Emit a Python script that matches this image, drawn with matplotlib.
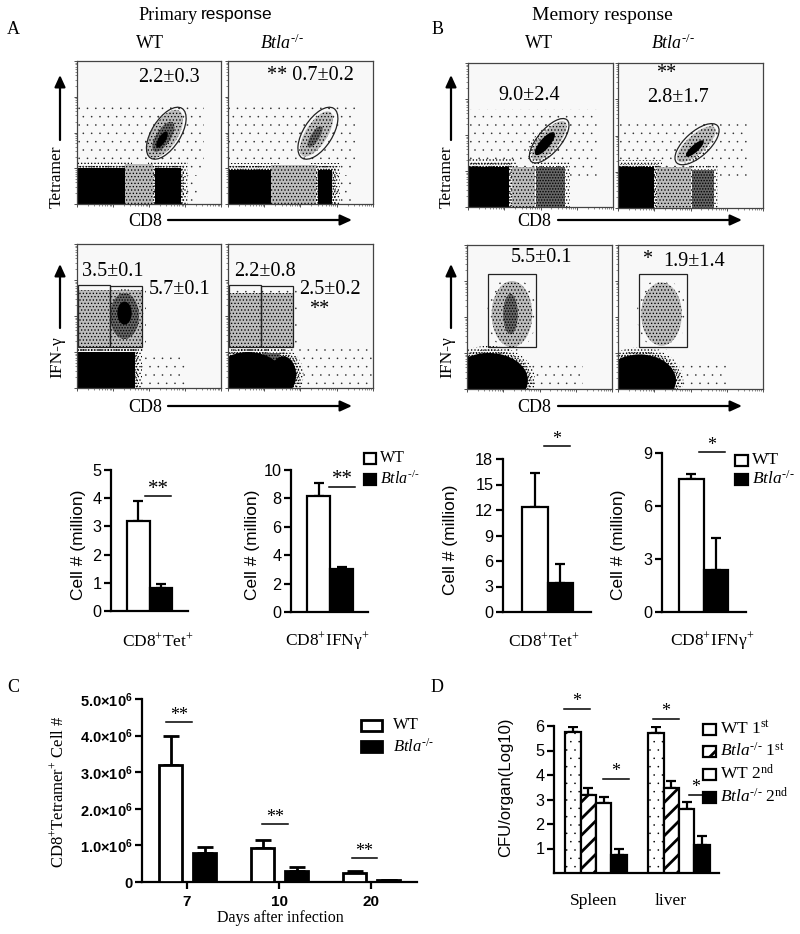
import numpy as np
import matplotlib
matplotlib.use("Agg")
import matplotlib.pyplot as plt
from matplotlib.patches import Rectangle, Ellipse

plt.rcParams.update({
    'font.family': 'Liberation Serif',
    'mathtext.fontset': 'custom',
    'mathtext.rm': 'Liberation Serif',
    'mathtext.it': 'Liberation Serif:italic',
    'mathtext.bf': 'Liberation Sans:bold',
})
W, H = 800, 934
SANS = 'Liberation Sans'
KO = r'$\mathit{Btla}^{\text{-/-}}$'

# ---------- flow panels: estimated population regions, % of the log axes
SPARSE, MID, DENSE, SOLID = 0, 1, 2, 3
A1_RECTS = [(0, 25, 88, 72, SPARSE), (33, 0, 53, 28, MID), (73, 0, 85, 20, SPARSE), (0, 0, 33, 25, SOLID), (54, 0, 72, 25, SOLID)]
A1_ELLS = [(61, 49, 38, 18, 58, MID), (60, 47, 24, 10, 58, DENSE), (59, 45, 13, 5, 58, SOLID)]
A2_RECTS = [(0, 25, 88, 72, SPARSE), (30, 0, 61, 27, MID), (73, 0, 85, 20, SPARSE), (0, 0, 30, 24, SOLID), (62, 0, 72, 24, SOLID)]
A2_ELLS = [(61, 49, 36, 15, 58, MID), (60, 47, 17, 6, 58, DENSE)]
A3_RECTS = [(42, 0, 75, 25, SPARSE), (1, 28, 45, 68, MID), (0, 0, 40, 25, SOLID)]
A3_ELLS = [(33, 50, 20, 32, 0, DENSE), (33, 52, 10, 16, 0, SOLID)]
A4_RECTS = [(45, 2, 100, 30, SPARSE), (1, 28, 45, 66, MID), (24, 0, 36, 24, DENSE)]
A4_ELLS = [(14, 6, 50, 38, 0, SOLID), (38, 9, 18, 26, 0, SOLID)]
B1_RECTS = [(0, 20, 90, 68, SPARSE), (30, 0, 46, 28, MID), (0, 0, 28, 28, SOLID), (47, 0, 67, 28, DENSE)]
B1_ELLS = [(56, 46, 34, 13, 50, MID), (53, 44, 20, 7, 50, SOLID)]
B2_RECTS = [(0, 20, 90, 60, SPARSE), (27, 0, 50, 28, MID), (0, 0, 25, 28, SOLID), (51, 0, 66, 26, DENSE)]
B2_ELLS = [(54, 44, 34, 13, 42, MID), (53, 41, 16, 5, 42, SOLID)]
B3_RECTS = [(45, 2, 80, 20, SPARSE)]
B3_ELLS = [(31, 52, 28, 46, 0, MID), (30, 52, 10, 28, 0, DENSE), (15, 6, 54, 38, 0, SOLID)]
B4_RECTS = [(42, 2, 75, 20, SPARSE)]
B4_ELLS = [(30, 52, 28, 44, 0, MID), (15, 6, 50, 36, 0, SOLID)]

A1_GATE = (62, 49.5, 41, 20, 58)
A2_GATE = (62, 49.5, 41, 20, 58)
B1_GATE = (56, 46, 38, 16, 50)
B2_GATE = (54.5, 44, 38, 17, 42)
A3_BOXES = [(1, 28.5, 23, 71.5), (23, 28.5, 45, 71)]
A4_BOXES = [(1, 28.5, 23, 71.5), (23, 28.5, 45, 71)]
B3_BOXES = [(14.5, 29, 47.5, 80)]
B4_BOXES = [(14.5, 29, 47.5, 80)]

# ---------- bar values
TET_A = [3.2, 0.8];    TET_A_TOP = [3.9, 0.95]
IFN_A = [8.2, 3.0];    IFN_A_TOP = [9.1, 3.15]
TET_B = [12.4, 3.4];   TET_B_TOP = [16.3, 5.7]
IFN_B = [7.55, 2.35];  IFN_B_TOP = [7.8, 4.2]
DAYS = ['7', '10', '20']
C_WT = [3.2, 0.92, 0.25];   C_WT_TOP = [4.0, 1.15, 0.30]
C_KO = [0.8, 0.30, 0.05];   C_KO_TOP = [0.95, 0.40, 0.06]
C_TICKS = [0, 1, 2, 3, 4, 5]
ORGANS = ['Spleen', 'liver']
D_WT1 = [5.75, 5.70];  D_WT1_TOP = [5.95, 5.95]
D_KO1 = [3.20, 3.45];  D_KO1_TOP = [3.45, 3.75]
D_WT2 = [2.85, 2.60];  D_WT2_TOP = [3.10, 2.90]
D_KO2 = [0.75, 1.15];  D_KO2_TOP = [1.00, 1.50]

fig = plt.figure(figsize=(W / 100, H / 100), dpi=100, facecolor='white')

def px_axes(x0, y0, x1, y1, **kw):
    return fig.add_axes([x0 / W, 1 - y1 / H, (x1 - x0) / W, (y1 - y0) / H], **kw)

# level: facecolor, hatch, dot colour, dot stroke
LEVELS = {SPARSE: ('none', '..', '#333333', 0.0),
          MID: ('#bcbcbc', '.....', '#000000', 0.55),
          DENSE: ('#666666', '......', '#000000', 0.7),
          SOLID: ('#000000', None, '#000000', 0.0)}
FEATHER = {SPARSE: [], MID: [(3, SPARSE)], DENSE: [(3, MID)], SOLID: [(5, MID), (2.5, DENSE)]}

def level_patch(make, level, transparent=False):
    fc, hatch, ec, hlw = LEVELS[level]
    with plt.rc_context({'hatch.linewidth': hlw}):
        return make(facecolor='none' if transparent else fc, hatch=hatch, edgecolor=ec, linewidth=0)

def flow(x0, y0, x1, y1, rects, ells, gate=None, boxes=()):
    ax = px_axes(x0, y0, x1, y1, facecolor='#f8f8f8')
    ax.set_xlim(0, 100); ax.set_ylim(0, 100)
    def maker(item, grow):
        if len(item) == 5:
            a, b, c, d, _ = item
            return lambda **st: Rectangle((a - grow, b - grow), c - a + 2 * grow, d - b + 2 * grow, **st)
        cx, cy, w, h, ang, _ = item
        return lambda **st: Ellipse((cx, cy), w + 2 * grow, h + 2 * grow, angle=ang, **st)
    items = sorted(list(rects) + list(ells), key=lambda it: it[-1])
    for it in items:
        for g, lev in FEATHER[it[-1]]:
            ax.add_patch(level_patch(maker(it, g), lev, transparent=True))
    for it in items:
        ax.add_patch(level_patch(maker(it, 0), it[-1]))
    if gate:
        cx, cy, w, h, ang = gate
        ax.add_patch(Ellipse((cx, cy), w, h, angle=ang, fc='none', ec='#222222', lw=0.9))
    for a, b, c, d in boxes:
        ax.add_patch(Rectangle((a, b), c - a, d - b, fc='none', ec='#222222', lw=0.9))
    major = [0, 25, 50, 75, 100]
    minor = [25 * (i + np.log10(k)) for i in range(4) for k in range(2, 10)]
    for axis in (ax.xaxis, ax.yaxis):
        axis.set_ticks(major); axis.set_ticks(minor, minor=True)
        axis.set_ticklabels([])
    ax.tick_params(which='major', length=2.5, width=0.6, color='#333333', direction='out')
    ax.tick_params(which='minor', length=1.2, width=0.4, color='#333333', direction='out')
    for s in ax.spines.values():
        s.set_color('#444444'); s.set_linewidth(0.9)
    return ax

flow(77, 61, 221, 204, A1_RECTS, A1_ELLS, gate=A1_GATE)
flow(228, 61, 373, 204, A2_RECTS, A2_ELLS, gate=A2_GATE)
flow(77, 244, 221, 388, A3_RECTS, A3_ELLS, boxes=A3_BOXES)
flow(228, 244, 373, 388, A4_RECTS, A4_ELLS, boxes=A4_BOXES)
flow(468, 63, 613, 207, B1_RECTS, B1_ELLS, gate=B1_GATE)
flow(618, 63, 763, 208, B2_RECTS, B2_ELLS, gate=B2_GATE)
flow(467, 245, 612, 389, B3_RECTS, B3_ELLS, boxes=B3_BOXES)
flow(618, 245, 763, 389, B4_RECTS, B4_ELLS, boxes=B4_BOXES)

def bar_style(ax, lw=1.6, ticksize=11.7, family=SANS):
    for s in ('top', 'right'):
        ax.spines[s].set_visible(False)
    for s in ('left', 'bottom'):
        ax.spines[s].set_linewidth(lw)
    ax.patch.set_alpha(0)
    ax.tick_params(axis='y', length=5, width=lw, labelsize=ticksize, pad=2)
    for t in ax.get_yticklabels():
        t.set_family(family)

def pair(line0, line1, spine_px, top_px, y0_px, bar0, barw, ymax, ticks, vals, tops):
    ax = px_axes(spine_px, top_px, line1, y0_px)
    ax.set_xlim((spine_px - bar0) / barw, (line1 - bar0) / barw)
    ax.set_ylim(0, ymax)
    ax.set_yticks(ticks)
    pos = [0.5, 1.5]
    ax.bar(pos, vals, width=1, color=['white', 'black'], edgecolor='black', linewidth=1.6, zorder=3)
    ax.errorbar(pos, vals, yerr=[[0, 0], np.array(tops) - np.array(vals)], fmt='none', ecolor='black',
                elinewidth=1.6, capsize=3.8, capthick=1.6, zorder=2, clip_on=False)
    ax.set_xticks([])
    bar_style(ax)
    return ax

pair(106, 188, 111, 470, 611, 127, 22.5, 5, [0, 1, 2, 3, 4, 5], TET_A, TET_A_TOP)
pair(286, 368, 291, 470, 612, 307, 23, 10, [0, 2, 4, 6, 8, 10], IFN_A, IFN_A_TOP)
pair(498, 591, 503, 459, 612, 522, 25.5, 18, [0, 3, 6, 9, 12, 15, 18], TET_B, TET_B_TOP)
pair(657, 746, 662, 453, 612, 679, 24.5, 9, [0, 3, 6, 9], IFN_B, IFN_B_TOP)

# panel C
axc = px_axes(142, 699, 417, 882)
axc.set_xlim(142, 417); axc.set_ylim(0, 5)
CX = [187, 279, 371]
for cx, a, at, b, bt in zip(CX, C_WT, C_WT_TOP, C_KO, C_KO_TOP):
    axc.bar(cx - 16.5, a, width=23, color='white', edgecolor='black', linewidth=2, zorder=3)
    axc.bar(cx + 17.5, b, width=23, color='black', edgecolor='black', linewidth=2, zorder=3)
    axc.errorbar([cx - 16.5, cx + 17.5], [a, b], yerr=[[0, 0], [at - a, bt - b]], fmt='none', ecolor='black',
                 elinewidth=2, capsize=6, capthick=2, zorder=2)
axc.set_xticks(CX, DAYS, family=SANS, fontweight='bold', fontsize=11)
axc.set_yticks(C_TICKS, ['0'] + [r'$\mathbf{%d.0{\times}10^{6}}$' % v for v in C_TICKS[1:]])
axc.tick_params(axis='x', length=5, width=1.6, pad=4)
bar_style(axc, ticksize=10.5)
for t in axc.get_yticklabels():
    t.set_family(SANS); t.set_fontweight('bold')

# panel D
axd = px_axes(554, 726, 719, 873)
axd.set_xlim(554, 719); axd.set_ylim(0, 6)
D_CENTERS = [596, 679]
D_SERIES = [(D_WT1, D_WT1_TOP, dict(color='white', hatch='..'), 0.0),
            (D_KO1, D_KO1_TOP, dict(color='white', hatch='//'), 2.0),
            (D_WT2, D_WT2_TOP, dict(color='white'), 0.0),
            (D_KO2, D_KO2_TOP, dict(color='black'), 0.0)]
for i, (vals, tops, st, hlw) in enumerate(D_SERIES):
    xs = [c + (i - 1.5) * 15.3 for c in D_CENTERS]
    with plt.rc_context({'hatch.linewidth': hlw}):
        axd.bar(xs, vals, width=15.3, edgecolor='black', linewidth=1.6, zorder=3, **st)
    axd.errorbar(xs, vals, yerr=[[0, 0], np.array(tops) - np.array(vals)], fmt='none', ecolor='black',
                 elinewidth=1.6, capsize=3.8, capthick=1.6, zorder=2)
axd.set_xticks([])
axd.set_yticks([1, 2, 3, 4, 5, 6])
bar_style(axd, ticksize=11.7)

# ---------- overlay in pixel coordinates
ov = fig.add_axes([0, 0, 1, 1], zorder=20)
ov.set_xlim(0, W); ov.set_ylim(H, 0); ov.axis('off')

def T(x, y, s, size=13, ha='center', va='center', **kw):
    ov.text(x, y, s, fontsize=size, ha=ha, va=va, **kw)

def arrow(x0, y0, x1, y1):
    ov.annotate('', xy=(x1, y1), xytext=(x0, y0),
                arrowprops=dict(arrowstyle='-|>,head_width=0.32,head_length=0.7', color='black', lw=1.6,
                                shrinkA=0, shrinkB=0))

def sig(x0, x1, y, stars, size=13):
    ov.plot([x0, x1], [y, y], color='black', lw=1.1)
    ov.text((x0 + x1) / 2, y - 7, stars, fontsize=size, ha='center', va='center')

T(138, 15, 'Primary', 13.2, ha='left')
T(201, 15, 'response', 12.5, ha='left', family=SANS)
T(602, 15, 'Memory response', 14)
for x, y, s in [(13, 30, 'A'), (438, 30, 'B'), (13, 687, 'C'), (437, 687, 'D')]:
    T(x, y, s, 13)
for x in (150, 539):
    T(x, 43, 'WT', 13)
T(282, 43, KO, 13)
T(673, 43, KO, 13)

for x, y, s in [(169, 77, '2.2±0.3'), (310, 75, '** 0.7±0.2'), (113, 271, '3.5±0.1'), (180, 290, '5.7±0.1'),
                (265, 271, '2.2±0.8'), (330, 290, '2.5±0.2'), (319, 310, '**'), (529, 95, '9.0±2.4'),
                (666, 73, '**'), (678, 98, '2.8±1.7'), (542, 258, '5.5±0.1'), (647, 260, '*'), (694, 262, '1.9±1.4')]:
    T(x, y, s, 14.5)

for xt, xa0, xa1, tx, ax0 in [(145, 168, 352, 57, 60), (534, 558, 742, 447, 451)]:
    T(xt, 222, 'CD8', 13); arrow(xa0, 220, xa1, 220)
    T(xt, 408, 'CD8', 13); arrow(xa0, 406, xa1, 406)
    T(tx, 177, 'Tetramer', 12.5, rotation=90); arrow(ax0, 140, ax0, 75)
    T(tx, 357, 'IFN-γ', 12.5, rotation=90); arrow(ax0, 328, ax0, 264)

for x, y in [(78, 545), (253, 545), (450, 540), (619, 545)]:
    T(x, y, 'Cell # (million)', 12.5, rotation=90, family=SANS)
for x, s in [(158, 'CD8$^{+}$Tet$^{+}$'), (327, 'CD8$^{+}$IFNγ$^{+}$'), (544, 'CD8$^{+}$Tet$^{+}$'), (712, 'CD8$^{+}$IFNγ$^{+}$')]:
    T(x, 641, s, 12.5)

sig(145, 171, 496, '**', 15); sig(329, 355, 487, '**', 15)
sig(544, 570, 446, '*'); sig(699, 725, 452, '*')
sig(166, 192, 722, '**'); sig(262, 288, 824, '**'); sig(352, 377, 858, '**')
sig(564, 590, 709, '*'); sig(603, 629, 779, '*'); sig(653, 679, 719, '*'); sig(689, 703, 795, '*')

def key(x, y, w, h, fc, hatch=None, lw=1.6, hlw=0.0):
    with plt.rc_context({'hatch.linewidth': hlw}):
        ov.add_patch(Rectangle((x, y - h / 2), w, h, fc=fc, ec='black', lw=lw, hatch=hatch, zorder=5))

key(364, 458, 12, 11, 'white'); key(364, 479, 12, 11, 'black')
T(380, 458, 'WT', 11.5, ha='left'); T(380, 479, KO, 11.5, ha='left')
key(735, 460, 12.5, 11, 'white'); key(735, 479, 12.5, 11, 'black')
T(752, 460, 'WT', 12.5, ha='left'); T(752, 479, KO, 12.5, ha='left')
key(361, 725, 21, 11, 'white', lw=2); key(361, 746, 21, 11, 'black', lw=2)
T(393, 725, 'WT', 12, ha='left'); T(393, 747, KO, 12, ha='left')

key(703, 729, 12.5, 11, 'white', '.')
key(703, 751, 12.5, 11, 'white', '//', hlw=2.0)
key(703, 774, 12.5, 11, 'white'); key(703, 797, 12.5, 11, 'black')
T(720, 729, 'WT 1$^{\\mathrm{st}}$', 12.5, ha='left')
T(720, 751, KO + ' 1$^{\\mathrm{st}}$', 12.5, ha='left')
T(720, 774, 'WT 2$^{\\mathrm{nd}}$', 12.5, ha='left')
T(720, 797, KO + ' 2$^{\\mathrm{nd}}$', 12.5, ha='left')

T(58, 792, 'CD8$^{+}$Tetramer$^{+}$ Cell #', 12, rotation=90)
T(280, 918, 'Days after infection', 11.5)
T(506, 787, 'CFU/organ(Log10)', 12, rotation=90, family=SANS)
T(594, 901, ORGANS[0], 12.5); T(671, 901, ORGANS[1], 12.5)

fig.savefig('out.png', dpi=100)
